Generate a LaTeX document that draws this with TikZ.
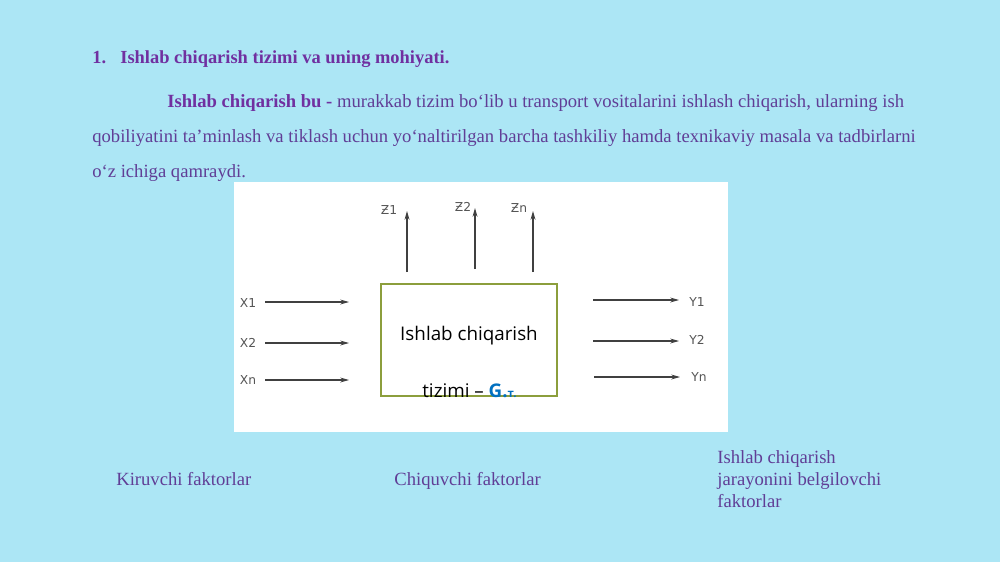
\documentclass[tikz,border=0pt]{standalone}
\usepackage{fontspec}
\setmainfont{Liberation Serif}
\newfontfamily\boxfont{Open Sans}
\newfontfamily\lblfont{DejaVu Sans}
\usetikzlibrary{arrows.meta}
\definecolor{bgcyan}{RGB}{172,230,245}
\definecolor{titlepurple}{RGB}{112,48,160}
\definecolor{textpurple}{RGB}{96,62,150}
\definecolor{boxolive}{RGB}{140,158,60}
\definecolor{gblue}{RGB}{0,112,192}
\definecolor{lblgray}{RGB}{85,85,85}
\tikzset{
  txt/.style={anchor=base west, inner sep=0pt, text=textpurple,
    font=\fontsize{10.6}{12.5}\selectfont},
  lbl/.style={inner sep=0pt, text=lblgray, font=\lblfont\fontsize{7}{8}\selectfont},
  flow/.style={-{Stealth[length=5pt,width=2.8pt]}, draw=black!75, line width=0.6pt},
}
\begin{document}
\begin{tikzpicture}[x=0.02cm,y=-0.02cm]
    \useasboundingbox (0,0) rectangle (1000,562);
    \fill[bgcyan] (0,0) rectangle (1000,562);
    \fill[white] (234,182) rectangle (728,432);
    % heading and definition
    \node[txt, text=titlepurple, font=\bfseries\fontsize{10.5}{12}\selectfont] (N1) at (92,63) {1.};
    \node[txt, text=titlepurple, font=\bfseries\fontsize{10.5}{12}\selectfont] (H1) at (120,63) {Ishlab chiqarish tizimi va uning mohiyati.};
    \node[txt] (P1) at (167,107) {\textcolor{titlepurple}{\bfseries Ishlab chiqarish bu -} murakkab tizim bo‘lib u transport vositalarini ishlash chiqarish, ularning ish};
    \node[txt] (P2) at (92,142) {qobiliyatini ta’minlash va tiklash uchun yo‘naltirilgan barcha tashkiliy hamda texnikaviy masala va tadbirlarni};
    \node[txt] (P3) at (92,177) {o‘z ichiga qamraydi.};
    % system box
    \node (G) [draw=boxolive, line width=0.8pt, minimum width=3.52cm, minimum height=2.24cm, inner sep=0pt] at (469,340) {};
    \node[anchor=base, inner sep=0pt, font=\boxfont\fontsize{10.7}{12}\selectfont] (G1) at (469,340) {Ishlab chiqarish};
    \node[anchor=base west, inner sep=0pt, font=\boxfont\fontsize{10.7}{12}\selectfont] (G2) at (422,397) {tizimi – \textcolor{gblue}{\bfseries G.\fontsize{6.5}{7}\selectfont т.}};
    % inputs
    \node[lbl] (X1) at (248,303) {X1};
    \node[lbl] (X2) at (248,343) {X2};
    \node[lbl] (Xn) at (248,380) {Xn};
    \coordinate (X1a) at (265,302);
    \coordinate (X1b) at (349,302);
    \coordinate (X2a) at (265,343);
    \coordinate (X2b) at (349,343);
    \coordinate (Xna) at (265,380);
    \coordinate (Xnb) at (349,380);
    \path (X1a) edge [flow] (X1b);
    \path (X2a) edge [flow] (X2b);
    \path (Xna) edge [flow] (Xnb);
    % outputs
    \node[lbl] (Y1) at (697,302) {Y1};
    \node[lbl] (Y2) at (697,340) {Y2};
    \node[lbl] (Yn) at (699,377) {Yn};
    \coordinate (Y1a) at (593,300);
    \coordinate (Y1b) at (679,300);
    \coordinate (Y2a) at (593,341);
    \coordinate (Y2b) at (679,341);
    \coordinate (Yna) at (594,377);
    \coordinate (Ynb) at (680,377);
    \path (Y1a) edge [flow] (Y1b);
    \path (Y2a) edge [flow] (Y2b);
    \path (Yna) edge [flow] (Ynb);
    % process factors
    \node[lbl] (Z1) at (389,210) {Ƶ1};
    \node[lbl] (Z2) at (463,207) {Ƶ2};
    \node[lbl] (Zn) at (519,208) {Ƶn};
    \coordinate (Z1a) at (407,272);
    \coordinate (Z1b) at (407,211);
    \coordinate (Z2a) at (475,269);
    \coordinate (Z2b) at (475,208);
    \coordinate (Zna) at (533,272);
    \coordinate (Znb) at (533,211);
    \path (Z1a) edge [flow] (Z1b);
    \path (Z2a) edge [flow] (Z2b);
    \path (Zna) edge [flow] (Znb);
    % captions
    \node[txt] (C1) at (116,485) {Kiruvchi faktorlar};
    \node[txt] (C2) at (394,485) {Chiquvchi faktorlar};
    \node[txt, align=left, anchor=north west] (C3) at (717,450) {Ishlab chiqarish\\jarayonini belgilovchi\\faktorlar};
  \end{tikzpicture}
\end{document}
